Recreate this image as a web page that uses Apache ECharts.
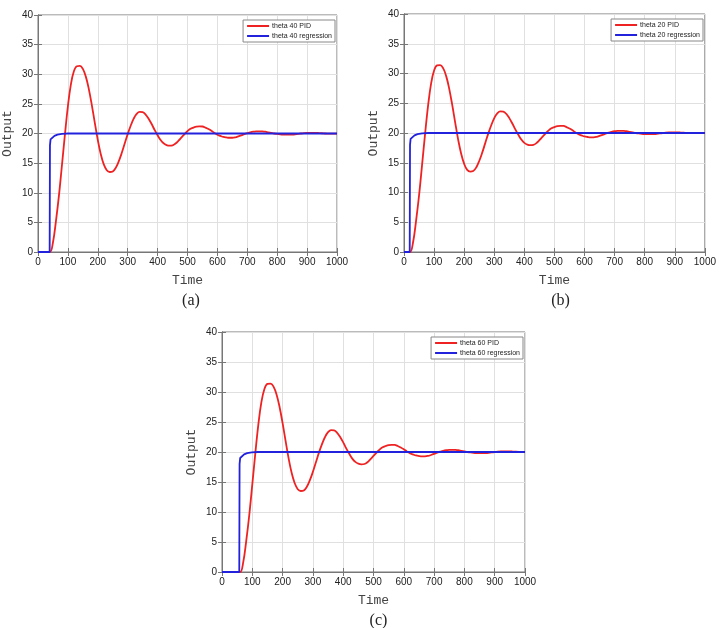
<!DOCTYPE html>
<html>
<head>
<meta charset="utf-8">
<script src="https://cdn.jsdelivr.net/npm/echarts@6/dist/echarts.min.js"></script>
<style>
  body { margin: 0; background: #fff; }
  #main { width: 719px; height: 628px; }
</style>
</head>
<body>
<div id="main"></div>
<script>
// sample times (shared by the three PID curves)
var timeSteps = [0, 10, 20, 30, 40, 50, 60, 70, 80, 90,
  100, 110, 120, 130, 140, 150, 160, 170, 180, 190,
  200, 210, 220, 230, 240, 250, 260, 270, 280, 290,
  300, 310, 320, 330, 340, 350, 360, 370, 380, 390,
  400, 410, 420, 430, 440, 450, 460, 470, 480, 490,
  500, 510, 520, 530, 540, 550, 560, 570, 580, 590,
  600, 610, 620, 630, 640, 650, 660, 670, 680, 690,
  700, 710, 720, 730, 740, 750, 760, 770, 780, 790,
  800, 810, 820, 830, 840, 850, 860, 870, 880, 890,
  900, 910, 920, 930, 940, 950, 960, 970, 980, 990, 1000];

// (a) theta 40
var pidA = [0, 0, 0, 0, 0, 1.6, 5.2, 9.5, 14.6, 19.8,
  24.6, 28.3, 30.5, 31.35, 31.4, 30.9, 29.6, 27.5, 24.8, 21.8,
  18.9, 16.5, 14.8, 13.8, 13.5, 13.6, 14.2, 15.3, 16.7, 18.3,
  19.9, 21.3, 22.5, 23.3, 23.65, 23.6, 23.2, 22.5, 21.6, 20.6,
  19.7, 18.9, 18.35, 18.05, 17.95, 18.0, 18.3, 18.8, 19.35, 19.9,
  20.4, 20.8, 21.0, 21.15, 21.2, 21.18, 21.0, 20.75, 20.45, 20.1,
  19.8, 19.6, 19.42, 19.33, 19.28, 19.28, 19.35, 19.5, 19.68, 19.88,
  20.05, 20.2, 20.3, 20.35, 20.37, 20.35, 20.3, 20.2, 20.1, 20.0,
  19.92, 19.86, 19.82, 19.8, 19.8, 19.82, 19.86, 19.92, 20.0, 20.06,
  20.1, 20.12, 20.12, 20.1, 20.07, 20.04, 20.0, 19.98, 19.97, 19.97, 19.98];
var regA = [[0, 0], [39, 0], [40, 18], [42, 19], [48, 19.3], [55, 19.6], [65, 19.82], [80, 19.95], [100, 20], [1000, 20]];

// (b) theta 20
var pidB = [0, 0, 0, 1.6, 5.2, 9.5, 14.6, 19.8,
  24.6, 28.3, 30.5, 31.35, 31.4, 30.9, 29.6, 27.5, 24.8, 21.8,
  18.9, 16.5, 14.8, 13.8, 13.5, 13.6, 14.2, 15.3, 16.7, 18.3,
  19.9, 21.3, 22.5, 23.3, 23.65, 23.6, 23.2, 22.5, 21.6, 20.6,
  19.7, 18.9, 18.35, 18.05, 17.95, 18.0, 18.3, 18.8, 19.35, 19.9,
  20.4, 20.8, 21.0, 21.15, 21.2, 21.18, 21.0, 20.75, 20.45, 20.1,
  19.8, 19.6, 19.42, 19.33, 19.28, 19.28, 19.35, 19.5, 19.68, 19.88,
  20.05, 20.2, 20.3, 20.35, 20.37, 20.35, 20.3, 20.2, 20.1, 20.0,
  19.92, 19.86, 19.82, 19.8, 19.8, 19.82, 19.86, 19.92, 20.0, 20.06,
  20.1, 20.12, 20.12, 20.1, 20.07, 20.04, 20.0, 19.98, 19.97, 19.97, 19.98, 19.99, 20.0];
var regB = [[0, 0], [19, 0], [20, 18], [22, 19], [28, 19.3], [35, 19.6], [45, 19.82], [60, 19.95], [80, 20], [1000, 20]];

// (c) theta 60
var pidC = [0, 0, 0, 0, 0, 0, 0, 1.6, 5.2, 9.5, 14.6, 19.8,
  24.6, 28.3, 30.5, 31.35, 31.4, 30.9, 29.6, 27.5, 24.8, 21.8,
  18.9, 16.5, 14.8, 13.8, 13.5, 13.6, 14.2, 15.3, 16.7, 18.3,
  19.9, 21.3, 22.5, 23.3, 23.65, 23.6, 23.2, 22.5, 21.6, 20.6,
  19.7, 18.9, 18.35, 18.05, 17.95, 18.0, 18.3, 18.8, 19.35, 19.9,
  20.4, 20.8, 21.0, 21.15, 21.2, 21.18, 21.0, 20.75, 20.45, 20.1,
  19.8, 19.6, 19.42, 19.33, 19.28, 19.28, 19.35, 19.5, 19.68, 19.88,
  20.05, 20.2, 20.3, 20.35, 20.37, 20.35, 20.3, 20.2, 20.1, 20.0,
  19.92, 19.86, 19.82, 19.8, 19.8, 19.82, 19.86, 19.92, 20.0, 20.06,
  20.1, 20.12, 20.12, 20.1, 20.07, 20.04, 20.0];
var regC = [[0, 0], [57, 0], [58, 18], [60, 19], [66, 19.3], [73, 19.6], [83, 19.82], [98, 19.95], [118, 20], [1000, 20]];

var panels = [
  {name: '40', pid: pidA, reg: regA, caption: '(a)', box: {left: 35, top: 15, width: 302, height: 237}, legendRight: 384, legendTop: 20},
  {name: '20', pid: pidB, reg: regB, caption: '(b)', box: {left: 404, top: 14, width: 303, height: 238}, legendRight: 16, legendTop: 19},
  {name: '60', pid: pidC, reg: regC, caption: '(c)', box: {left: 222, top: 332, width: 303, height: 240}, legendRight: 196, legendTop: 337}
];

function zip(xs, ys) {
  var out = [];
  for (var i = 0; i < ys.length; i++) out.push([xs[i], ys[i]]);
  return out;
}

var frameColor = '#777';
var tickFont = {fontFamily: 'Liberation Sans', fontSize: 10, color: '#222', margin: 5, formatter: function (v) { return String(v); }};
var nameFont = {fontFamily: 'Liberation Mono', fontSize: 13, color: '#444'};
var gridLine = {show: true, lineStyle: {type: 'solid', color: '#e0e0e0'}};

var option = {
  backgroundColor: '#fff',
  animation: false,
  grid: [], xAxis: [], yAxis: [], series: [], legend: [], title: []
};

panels.forEach(function (p, i) {
  option.grid.push({
    left: p.box.left, top: p.box.top, width: p.box.width, height: p.box.height,
    show: true, borderColor: frameColor, borderWidth: 1, backgroundColor: '#fff'
  });
  // bottom / left axes with labels
  option.xAxis.push({
    type: 'value', gridIndex: i, min: 0, max: 1000, interval: 100,
    name: 'Time', nameLocation: 'middle', nameGap: 22, nameTextStyle: nameFont,
    axisLine: {lineStyle: {color: frameColor}},
    axisTick: {inside: true, length: 4, lineStyle: {color: frameColor}},
    axisLabel: tickFont, splitLine: gridLine
  });
  option.yAxis.push({
    type: 'value', gridIndex: i, min: 0, max: 40, interval: 5,
    name: 'Output', nameLocation: 'middle', nameGap: 24, nameTextStyle: nameFont,
    axisLine: {show: true, lineStyle: {color: frameColor}},
    axisTick: {show: true, inside: true, length: 4, lineStyle: {color: frameColor}},
    axisLabel: tickFont, splitLine: gridLine
  });
  // top / right axes: ticks only (box frame)
  option.xAxis.push({
    type: 'value', gridIndex: i, position: 'top', min: 0, max: 1000, interval: 100,
    axisLine: {show: true, lineStyle: {color: frameColor}},
    axisTick: {show: true, inside: true, length: 4, lineStyle: {color: frameColor}},
    axisLabel: {show: false}, splitLine: {show: false}
  });
  option.yAxis.push({
    type: 'value', gridIndex: i, position: 'right', min: 0, max: 40, interval: 5,
    axisLine: {show: true, lineStyle: {color: frameColor}},
    axisTick: {show: true, inside: true, length: 4, lineStyle: {color: frameColor}},
    axisLabel: {show: false}, splitLine: {show: false}
  });
  option.series.push({
    name: 'theta ' + p.name + ' PID', type: 'line', xAxisIndex: 2 * i, yAxisIndex: 2 * i,
    data: zip(timeSteps, p.pid), smooth: 0.4, showSymbol: false,
    lineStyle: {color: '#ee2222', width: 1.8}, itemStyle: {color: '#ee2222'}
  });
  option.series.push({
    name: 'theta ' + p.name + ' regression', type: 'line', xAxisIndex: 2 * i, yAxisIndex: 2 * i,
    data: p.reg, showSymbol: false,
    lineStyle: {color: '#2222dd', width: 1.8}, itemStyle: {color: '#2222dd'}
  });
  option.legend.push({
    data: ['theta ' + p.name + ' PID', 'theta ' + p.name + ' regression'],
    orient: 'vertical', right: p.legendRight, top: p.legendTop,
    icon: 'rect', itemWidth: 22, itemHeight: 2, itemGap: 2,
    padding: [2, 3, 2, 4], backgroundColor: '#fff', borderColor: '#888', borderWidth: 1,
    textStyle: {fontFamily: 'Liberation Sans', fontSize: 7, lineHeight: 8, color: '#222', padding: [0, 0, 0, -2]}
  });
  option.title.push({
    text: p.caption, left: p.box.left + p.box.width / 2, textAlign: 'center',
    top: p.box.top + p.box.height + 36,
    textStyle: {fontFamily: 'Liberation Serif', fontSize: 16, fontWeight: 'normal', color: '#222'}
  });
});

var chart = echarts.init(document.getElementById('main'));
chart.setOption(option);
</script>
</body>
</html>
